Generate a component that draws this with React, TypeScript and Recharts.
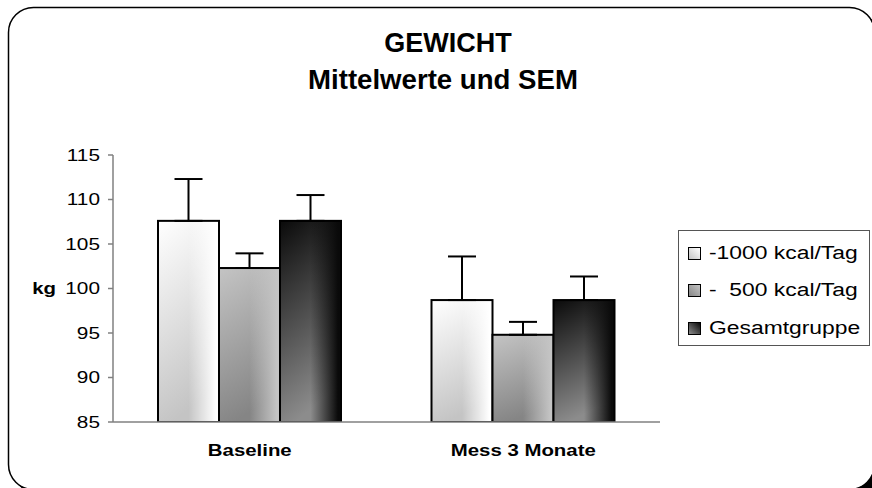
import React from 'react';
import { BarChart, Bar, XAxis, YAxis, ErrorBar } from 'recharts';

const categories = ['Baseline', 'Mess 3 Monate'];
const seriesNames = ['-1000 kcal/Tag', '-  500 kcal/Tag', 'Gesamtgruppe'];
const minus1000 = [107.6, 98.7];
const minus1000Sem = [4.7, 4.9];
const minus500 = [102.3, 94.8];
const minus500Sem = [1.65, 1.45];
const total = [107.6, 98.7];
const totalSem = [2.9, 2.65];
const yTicks = [85, 90, 95, 100, 105, 110, 115];

// top / bottom-left shade of each series
const shades: [string, string][] = [
  ['#ffffff', '#c4c4c4'],
  ['#c4c4c4', '#858585'],
  ['#0a0a0a', '#8c8c8c'],
];

const FONT = '"Liberation Sans", Arial, sans-serif';

const data = categories.map((name, i) => ({
  name,
  s0: minus1000[i],
  e0: [0, minus1000Sem[i]],
  s1: minus500[i],
  e1: [0, minus500Sem[i]],
  s2: total[i],
  e2: [0, totalSem[i]],
}));

function ShadedBar(props: any) {
  const { x, y, width, height, k, index } = props;
  const [top, bottom] = shades[k];
  const id = `b${k}_${index}`;
  return (
    <g>
      <defs>
        <linearGradient id={`v${id}`} x1="0" y1="0" x2="0.25" y2="1">
          <stop offset="0" stopColor={top} />
          <stop offset="1" stopColor={bottom} />
        </linearGradient>
        <linearGradient id={`h${id}`} x1="0" y1="0" x2="1" y2="0">
          <stop offset="0" stopColor={top} stopOpacity={0} />
          <stop offset="0.5" stopColor={top} stopOpacity={0} />
          <stop offset="0.95" stopColor={top} stopOpacity={1} />
          <stop offset="1" stopColor={top} stopOpacity={1} />
        </linearGradient>
      </defs>
      <rect x={x} y={y} width={width} height={height} fill={`url(#v${id})`} />
      <rect x={x} y={y} width={width} height={height} fill={`url(#h${id})`} />
      <rect x={x} y={y} width={width} height={height} fill="none" stroke="#000" strokeWidth={2} />
    </g>
  );
}

function YTick({ x, y, payload }: any) {
  return (
    <text transform={`translate(${x} ${y}) scale(1.3 1)`} x={0} y={0} dy="0.36em" textAnchor="end"
      fontFamily={FONT} fontSize={16} fill="#000">
      {payload.value}
    </text>
  );
}

function XTick({ x, y, payload }: any) {
  return (
    <text transform={`translate(${x} ${y}) scale(1.2 1)`} x={0} y={0} dy={26} textAnchor="middle"
      fontFamily={FONT} fontSize={17} fontWeight="bold" fill="#000">
      {payload.value}
    </text>
  );
}

function LegendBox() {
  return (
    <div style={{
      position: 'absolute', left: 678, top: 230, width: 190, height: 114,
      border: '1px solid #555', background: '#fff', fontFamily: FONT, fontSize: 18,
    }}>
      {seriesNames.map((n, i) => (
        <div key={n} style={{ position: 'absolute', left: 9, top: 11 + i * 37.5, height: 22, display: 'flex', alignItems: 'center' }}>
          <span style={{
            width: 11, height: 11, border: '1px solid #000', marginRight: 8,
            background: `linear-gradient(to top right, ${shades[i][1]}, ${shades[i][0]})`,
          }} />
          <span style={{ display: 'inline-block', whiteSpace: 'pre', transform: 'scaleX(1.27)', transformOrigin: 'left center' }}>{n}</span>
        </div>
      ))}
    </div>
  );
}

export default function App() {
  return (
    <div style={{ position: 'absolute', left: 0, top: 0, width: 872, height: 488, overflow: 'hidden', background: '#fff' }}>
      <svg width={872} height={488} style={{ position: 'absolute', left: 0, top: 0 }}>
        <rect x={14} y={13} width={866} height={482} rx={25} ry={25} fill="#000" />
        <rect x={8.5} y={7.5} width={866} height={482} rx={25} ry={25} fill="#fff" stroke="#000" strokeWidth={1.5} />
      </svg>
      <div style={{ position: 'absolute', left: 0, top: 0 }}>
        <BarChart width={872} height={488} data={data} barGap={0} barSize={61}
          margin={{ top: 155, right: 212, bottom: 36, left: 53 }}>
          <YAxis width={60} domain={[85, 115]} ticks={yTicks} interval={0} allowDataOverflow
            axisLine={{ stroke: '#808080', strokeWidth: 1.5 }} tickLine={{ stroke: '#808080', strokeWidth: 1.5 }}
            tickSize={5} tickMargin={8} tick={<YTick />} />
          <XAxis dataKey="name" height={30} axisLine={{ stroke: '#808080', strokeWidth: 1.5 }} tickLine={false}
            tick={<XTick />} />
          {[0, 1, 2].map((k) => (
            <Bar key={k} dataKey={`s${k}`} name={seriesNames[k]} isAnimationActive={false}
              shape={(p: any) => <ShadedBar {...p} k={k} />}>
              <ErrorBar dataKey={`e${k}`} width={14} stroke="#000" strokeWidth={2} direction="y" />
            </Bar>
          ))}
        </BarChart>
      </div>
      <svg width={872} height={488} style={{ position: 'absolute', left: 0, top: 0, pointerEvents: 'none' }}>
        <text x={448} y={52} textAnchor="middle" fontFamily={FONT} fontSize={27} fontWeight="bold">GEWICHT</text>
        <text x={443} y={89} textAnchor="middle" fontFamily={FONT} fontSize={27.6} fontWeight="bold">Mittelwerte und SEM</text>
        <text transform="translate(56 294) scale(1.2 1)" x={0} y={0} textAnchor="end" fontFamily={FONT} fontSize={17} fontWeight="bold">kg</text>
      </svg>
      <LegendBox />
    </div>
  );
}
